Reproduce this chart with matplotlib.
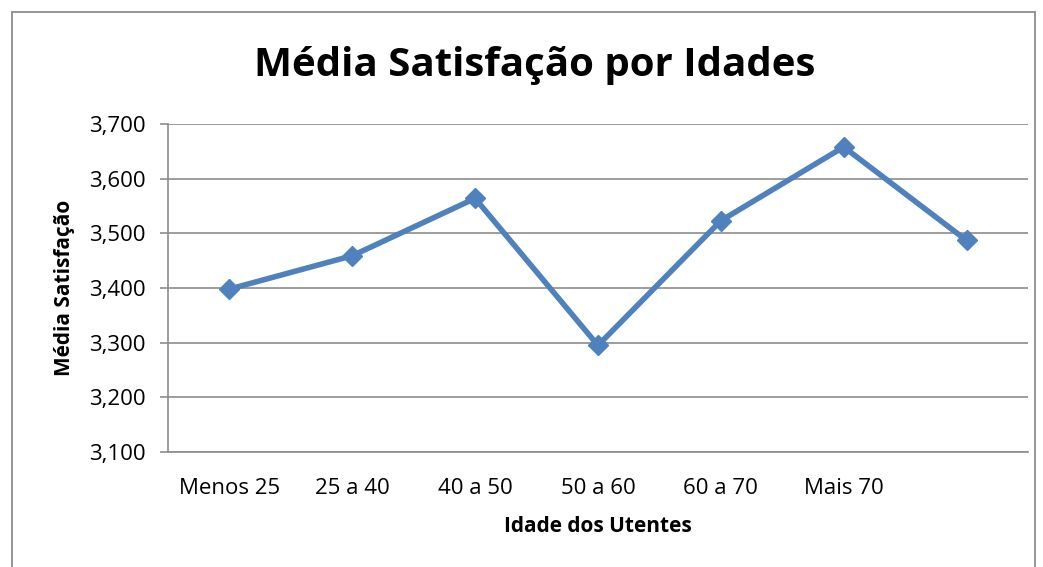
import matplotlib
matplotlib.use("Agg")
import matplotlib.pyplot as plt
from matplotlib.ticker import FuncFormatter
from matplotlib.patches import Rectangle

# dados
categorias = ["Menos 25", "25 a 40", "40 a 50", "50 a 60", "60 a 70", "Mais 70", ""]
media_satisf = [3.398, 3.459, 3.564, 3.295, 3.523, 3.658, 3.487]
yticks = [3.1, 3.2, 3.3, 3.4, 3.5, 3.6, 3.7]

plt.rcParams["font.family"] = ["Open Sans", "DejaVu Sans"]

fig = plt.figure(figsize=(10.43, 5.67), dpi=100)
ax = fig.add_axes([0.161, 0.2028, 0.8246, 0.5785])

# moldura exterior do gráfico
fig.patches.append(Rectangle((12/1043, -0.05), 1023/1043, 1.05 - 12/567,
                             transform=fig.transFigure, fill=False,
                             edgecolor="#8c8c8c", lw=1.3))

x = list(range(len(categorias)))
ax.plot(x, media_satisf, color="#4F81BD", lw=4, marker="D", ms=10,
        mec="#4F81BD", mfc="#4F81BD", zorder=3)

ax.set_xlim(-0.5, len(categorias) - 0.5)
ax.set_ylim(3.1, 3.7)
ax.set_yticks(yticks)
ax.yaxis.set_major_formatter(FuncFormatter(lambda v, p: f"{v:.3f}".replace(".", ",")))
ax.set_xticks(x)
ax.set_xticklabels(categorias)

ax.grid(axis="y", color="#8c8c8c", lw=1.2)
ax.set_axisbelow(True)
for s in ["top", "right"]:
    ax.spines[s].set_visible(False)
ax.spines["left"].set_color("#8c8c8c")
ax.spines["bottom"].set_color("#8c8c8c")
ax.spines["left"].set_linewidth(1.2)
ax.spines["bottom"].set_linewidth(1.2)

ax.tick_params(axis="y", length=6, width=1.2, color="#8c8c8c", labelsize=16, pad=10)
ax.tick_params(axis="x", length=0, labelsize=16, pad=19)

ax.set_ylabel("Média Satisfação", fontsize=15, fontweight="bold", labelpad=10)
ax.set_xlabel("Idade dos Utentes", fontsize=15, fontweight="bold", labelpad=12)
fig.text(0.513, 0.885, "Média Satisfação por Idades", ha="center", va="center",
         fontsize=29, fontweight="bold")

fig.savefig("out.png", dpi=100)
